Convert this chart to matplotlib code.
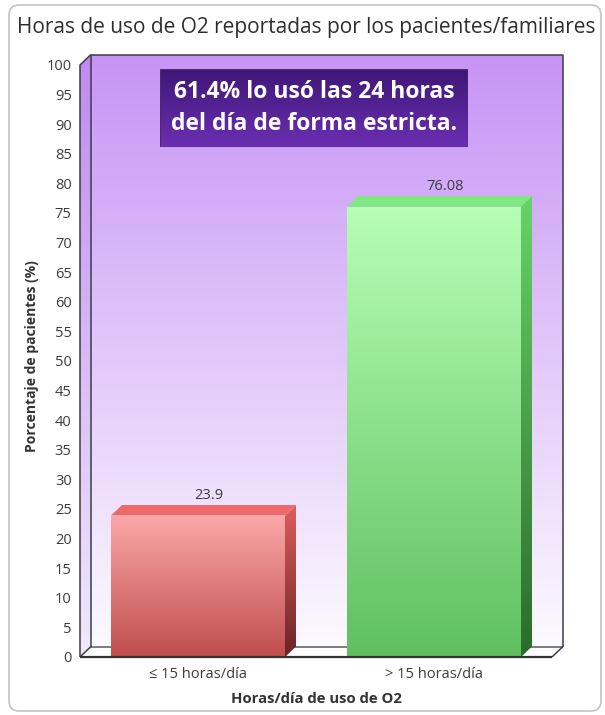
import numpy as np
import matplotlib.pyplot as plt
from matplotlib.colors import LinearSegmentedColormap
from matplotlib.patches import Polygon, FancyBboxPatch, Rectangle

plt.rcParams['font.family'] = ['Open Sans', 'DejaVu Sans']

categorias = ['≤ 15 horas/día', '> 15 horas/día']
porcentajes = [23.9, 76.08]
etiquetas = ['23.9', '76.08']
yticks = list(range(0, 101, 5))
titulo = 'Horas de uso de O2 reportadas por los pacientes/familiares'
nota = '61.4% lo usó las 24 horas\ndel día de forma estricta.'

# colores de cada barra: (frente arriba, frente abajo, lado arriba, lado abajo, tapa)
colores = [
    ('#fba8a8', '#c04e4e', '#dc5e5e', '#6a2424', '#ee6a6a'),
    ('#b6ffb6', '#60c060', '#66d466', '#2c6a2c', '#80e880'),
]

W, H = 605, 715
fig = plt.figure(figsize=(W / 100, H / 100), dpi=100)

# fondo con marco redondeado, en pixeles
bg = fig.add_axes([0, 0, 1, 1], zorder=0)
bg.set_xlim(0, W)
bg.set_ylim(H, 0)
bg.axis('off')
bg.add_patch(FancyBboxPatch((9, 5), 592, 706, boxstyle='round,pad=0,rounding_size=10',
                            facecolor='white', edgecolor='#c4c4c4', lw=1.2))
bg.text(17, 27, titulo, fontsize=15, color='#2e2e2e', ha='left', va='center')

ax = fig.add_axes([80 / W, 1 - 657 / H, 472 / W, 592 / H], zorder=1)
ax.patch.set_visible(False)
ax.set_xlim(-0.5, 1.5)
ax.set_ylim(0, 100)

# profundidad del efecto 3D en unidades de datos
dx = 11 / 236
dy = 10.5 / 5.92
ancho = 174 / 236
x_izq, x_der = -0.5, 1.5


def degradado(a, verts, c_top, c_bot, z):
    verts = np.array(verts, dtype=float)
    x0, x1 = verts[:, 0].min(), verts[:, 0].max()
    y0, y1 = verts[:, 1].min(), verts[:, 1].max()
    cmap = LinearSegmentedColormap.from_list('g', [c_bot, c_top])
    grad = np.linspace(0, 1, 256).reshape(-1, 1)
    im = a.imshow(grad, extent=(x0, x1, y0, y1), origin='lower', cmap=cmap,
                  aspect='auto', zorder=z, interpolation='bilinear')
    poly = Polygon(verts, closed=True, transform=a.transData)
    im.set_clip_path(poly)
    im.set_clip_box(fig.bbox)
    return im


def linea(xs, ys, lw=1.1, c='#3c3c48', z=3):
    ax.plot(xs, ys, color=c, lw=lw, zorder=z, clip_on=False, solid_capstyle='butt')


# pared del fondo y pared izquierda
degradado(ax, [(x_izq + dx, dy), (x_der + dx, dy), (x_der + dx, 100 + dy), (x_izq + dx, 100 + dy)],
          '#c794f5', '#fcfaff', 1)
degradado(ax, [(x_izq, 0), (x_izq + dx, dy), (x_izq + dx, 100 + dy), (x_izq, 100)],
          '#bf8af0', '#f2eafc', 1)
# piso
ax.add_patch(Polygon([(x_izq, 0), (x_der, 0), (x_der + dx, dy), (x_izq + dx, dy)],
                     closed=True, facecolor='white', edgecolor='none', zorder=1.2, clip_on=False))

linea([x_izq + dx, x_der + dx, x_der + dx], [100 + dy, 100 + dy, dy])
linea([x_izq + dx, x_izq + dx], [dy, 100 + dy])
linea([x_izq, x_izq, x_izq + dx], [0, 100, 100 + dy])
linea([x_izq + dx, x_der + dx], [dy, dy], c='#5a5a5a', z=1.5)
linea([x_izq, x_izq + dx], [0, dy])
linea([x_der, x_der + dx], [0, dy])
linea([x_izq, x_der], [0, 0], lw=1.6, c='#333333', z=6)

# barras con frente, lado y tapa
for i, (v, etq, col) in enumerate(zip(porcentajes, etiquetas, colores)):
    x0, x1 = i - ancho / 2, i + ancho / 2
    degradado(ax, [(x0, 0), (x1, 0), (x1, v), (x0, v)], col[0], col[1], 4)
    degradado(ax, [(x1, 0), (x1 + dx, dy), (x1 + dx, v + dy), (x1, v)], col[2], col[3], 4)
    ax.add_patch(Polygon([(x0, v), (x1, v), (x1 + dx, v + dy), (x0 + dx, v + dy)],
                         closed=True, facecolor=col[4], edgecolor='none', zorder=4, clip_on=False))
    ax.annotate(etq, xy=(i + dx, v + dy), xytext=(0, 2), textcoords='offset pixels',
                ha='center', va='bottom', fontsize=10.5, color='#3c3c3c', zorder=7)

for s in ax.spines.values():
    s.set_visible(False)
ax.set_yticks(yticks)
ax.set_xticks([0, 1], categorias)
ax.tick_params(axis='y', length=0, pad=6, labelsize=10.5, labelcolor='#3c3c3c')
ax.tick_params(axis='x', length=0, pad=7, labelsize=10.5, labelcolor='#3c3c3c')

ax.set_xlabel('Horas/día de uso de O2', fontsize=10.7, fontweight='bold', color='#333333')
ax.xaxis.set_label_coords(0.5, (657 - 699) / 592)
ax.xaxis.label.set_va('center')
ax.set_ylabel('Porcentaje de pacientes (%)', fontsize=10, fontweight='bold', color='#333333')
ax.yaxis.set_label_coords((32 - 80) / 472, (657 - 356) / 592)
ax.yaxis.label.set_va('center')

# recuadro con la nota destacada
caja = fig.add_axes([160 / W, 1 - 147 / H, 308 / W, 78 / H], zorder=3)
caja.set_xlim(0, 1)
caja.set_ylim(0, 1)
caja.axis('off')
caja.imshow(np.linspace(0, 1, 256).reshape(-1, 1), extent=(0, 1, 0, 1), origin='lower',
            cmap=LinearSegmentedColormap.from_list('n', ['#6b2fb2', '#3f1777']),
            aspect='auto', interpolation='bilinear')
caja.add_patch(Rectangle((0, 0), 1, 1, facecolor='none', edgecolor='#4b2a6e', lw=1))
caja.text(0.5, 0.5, nota, ha='center', va='center', fontsize=16.5, fontweight='bold',
          color='white', linespacing=1.4)

fig.savefig('out.png', dpi=100)
